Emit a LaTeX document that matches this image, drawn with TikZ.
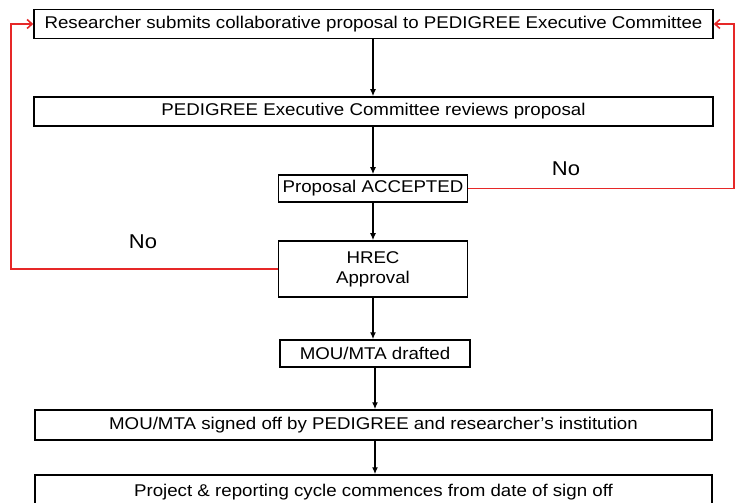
\documentclass[tikz,border=0pt]{standalone}
\usepackage{fontspec}
\setmainfont{Liberation Sans}[FakeStretch=1.1]
\usetikzlibrary{arrows.meta}
\definecolor{redline}{RGB}{230,40,40}
\begin{document}
\begin{tikzpicture}[x=1bp,y=-1bp,
  boxnode/.style={draw=black,line width=1.5bp,inner sep=0pt,align=center,font=\fontsize{17bp}{20bp}\selectfont},
  flowarrow/.style={draw=black,line width=1.7bp,-{Latex[length=7bp,width=6bp]}},
  backarrow/.style={draw=redline,line width=1.6bp,-{Straight Barb[length=5bp,width=9bp]}},
  nolabel/.style={font=\fontsize{20bp}{24bp}\selectfont,inner sep=0pt}]
\useasboundingbox (0,0) rectangle (736,503);
\fill[white] (0,0) rectangle (736,503);
\clip (0,0) rectangle (736,503);
\node[boxnode,minimum width=679bp,minimum height=29bp] (b1) at (373.5,24) {Researcher submits collaborative proposal to PEDIGREE Executive Committee};
\node[boxnode,minimum width=679bp,minimum height=29bp] (b2) at (373.5,111.5) {PEDIGREE Executive Committee reviews proposal};
\node[boxnode,minimum width=189bp,minimum height=27bp] (b3) at (373,188.5) {Proposal ACCEPTED};
\node[boxnode,minimum width=189bp,minimum height=56bp] (b4) at (373,269) {HREC\\Approval};
\node[boxnode,minimum width=190bp,minimum height=27bp] (b5) at (375,353.5) {MOU/MTA drafted};
\node[boxnode,minimum width=677bp,minimum height=30bp] (b6) at (373.5,425) {MOU/MTA signed off by PEDIGREE and researcher’s institution};
\node[boxnode,minimum width=677bp,minimum height=34bp] (b7) at (373.5,492) {Project \& reporting cycle commences from date of sign off};
\coordinate (rr) at (734,0);
\coordinate (ll) at (11,0);
\draw[flowarrow] (b1.south -| b3.north) -- (b2.north -| b3.north);
\draw[flowarrow] (b2.south -| b3.north) -- (b3.north);
\draw[flowarrow] (b3.south) -- (b4.north);
\draw[flowarrow] (b4.south) -- (b4.south |- b5.north);
\draw[flowarrow] (b5.south) -- (b5.south |- b6.north);
\draw[flowarrow] (b6.south -| b5.south) -- (b5.south |- b7.north);
\draw[backarrow] (b3.east) -- (b3.east -| rr) -- (rr |- b1.east) -- (b1.east);
\draw[backarrow] (b4.west) -- (b4.west -| ll) -- (ll |- b1.west) -- (b1.west);
\node[nolabel] (no1) at (566,169) {No};
\node[nolabel] (no2) at (143,242) {No};
\end{tikzpicture}
\end{document}
